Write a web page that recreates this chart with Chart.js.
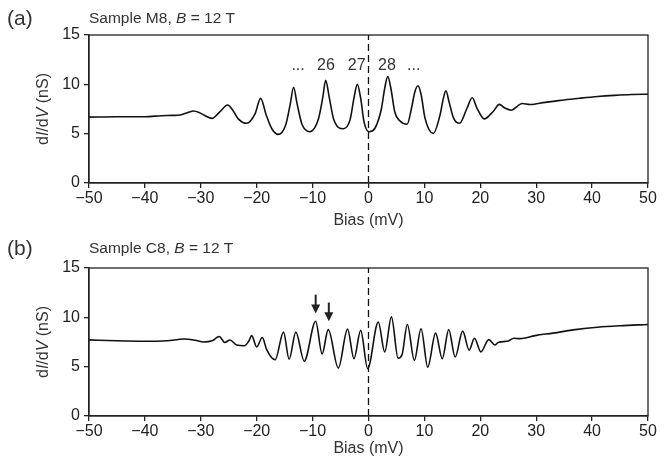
<!DOCTYPE html>
<html lang="en">
<head>
<meta charset="UTF-8">
<title>dI/dV vs bias, samples M8 and C8</title>
<style>
  html, body { margin: 0; padding: 0; background: #fff; }
  .panel { position: absolute; left: 0; width: 668px; height: 231px; }
  #panelA { top: 0; }
  #panelB { top: 231px; }
</style>
</head>
<body>
<div class="panel" id="panelA"><canvas id="chartA"></canvas></div>
<div class="panel" id="panelB"><canvas id="chartB"></canvas></div>

<script src="https://cdn.jsdelivr.net/npm/chart.js@4"></script>
<script>
// --- data ---
// panel (a): sample M8
const biasA = [-50, -45, -40, -37, -35, -33.7, -32.3, -31.3, -30.3, -29.3, -28.0, -26.6, -25.2, -24.3, -23.3,
  -21.8, -20.3, -19.3, -18.3, -17.3, -16.1, -14.8, -14.0, -13.4, -12.8, -11.9, -10.5, -9.0, -8.2, -7.66,
  -7.0, -6.2, -4.5, -3.3, -2.6, -2.0, -1.4, -0.8, 0.1, 1.2, 2.3, 2.9, 3.45, 4.0, 4.7, 5.6, 6.9, 7.7, 8.3,
  8.85, 9.4, 10.1, 11.6, 12.8, 13.4, 13.85, 14.4, 15.2, 16.3, 17.6, 18.55, 19.4, 20.7, 22.3, 23.4, 24.4,
  25.5, 27.5, 28.9, 31.6, 33.4, 35, 38, 41, 44, 47, 50];
const didvA = [6.68, 6.72, 6.72, 6.82, 6.85, 6.9, 7.15, 7.3, 7.15, 6.85, 6.55, 7.2, 7.9, 7.4, 6.5,
  6.05, 7.0, 8.58, 6.9, 5.5, 4.93, 5.9, 8.0, 9.7, 8.1, 5.95, 5.2, 6.4, 8.6, 10.4,
  8.6, 6.4, 5.5, 6.4, 8.6, 10.0, 8.6, 6.2, 5.2, 5.6, 7.5, 9.6, 10.8, 9.6, 7.2, 6.3, 5.95, 7.6, 9.25,
  9.86, 9.0, 6.6, 5.03, 6.9, 8.6, 9.35, 8.25, 6.6, 6.05, 7.55, 8.64, 7.6, 6.5, 7.25, 7.97, 7.6,
  7.38, 8.05, 7.95, 8.17, 8.3, 8.42, 8.6, 8.76, 8.88, 8.97, 9.0];

// panel (b): sample C8
const biasB = [-50, -45, -40, -36, -33, -31, -29.5, -28, -26.7, -25.7, -24.8, -23.6, -22.2, -21.4, -20.9,
  -20.0, -19.0, -18.2, -16.7, -15.2, -14.2, -13.0, -11.5, -9.45, -8.3, -7.2, -5.4, -3.75, -2.6, -1.4,
  -0.15, 1.75, 2.9, 4.1, 5.3, 6.0, 6.95, 8.2, 9.4, 10.6, 12.0, 13.2, 14.35, 15.5, 16.85, 18.0, 18.95,
  20.1, 21.5, 22.6, 23.2, 25.0, 26.0, 27.1, 29.8, 33, 37, 41, 45, 50];
const didvB = [7.72, 7.62, 7.57, 7.63, 7.8, 7.67, 7.5, 7.62, 8.05, 7.45, 7.7, 7.2, 7.12, 7.6, 8.15,
  7.0, 7.95, 6.7, 5.7, 8.5, 5.75, 8.5, 5.55, 9.6, 6.3, 8.75, 4.86, 8.8, 5.8, 8.68,
  4.8, 9.53, 6.49, 10.05, 5.85, 6.2, 9.28, 5.64, 8.85, 4.95, 8.4, 5.8, 8.75, 5.98, 8.6, 6.68, 7.88,
  6.5, 7.74, 7.2, 7.45, 7.6, 7.88, 7.84, 8.15, 8.4, 8.75, 9.0, 9.15, 9.28];

// dashed line at zero bias
const zeroX = [0, 0];
const zeroY = [0, 15];

// Landau level labels above peaks in (a)
const levelLabels = ['...', '26', '27', '28', '...'];
const levelX = [-12.6, -7.6, -2.1, 3.3, 8.1];
const levelY = 11.85;

// arrows in (b)
const arrowX = [-9.45, -7.1];
const arrowTop = [12.3, 11.5];
const arrowTip = [10.4, 9.6];

const xTicks = [-50, -40, -30, -20, -10, 0, 10, 20, 30, 40, 50];
const yTicks = [0, 5, 10, 15];

const FONT = "'Liberation Sans', Arial, sans-serif";
const INK = '#222';
const TEXT = '#333';

function toPoints(xs, ys) {
  return xs.map((v, i) => ({ x: v, y: ys[i] }));
}

// draws runs of text, some italic, starting at x
function drawRuns(ctx, runs, x, y, size) {
  let cx = x;
  runs.forEach(r => {
    ctx.font = (r.i ? 'italic ' : '') + size + 'px ' + FONT;
    ctx.fillText(r.t, cx, y);
    cx += ctx.measureText(r.t).width;
  });
}
function runsWidth(ctx, runs, size) {
  let w = 0;
  runs.forEach(r => {
    ctx.font = (r.i ? 'italic ' : '') + size + 'px ' + FONT;
    w += ctx.measureText(r.t).width;
  });
  return w;
}

const decorations = {
  id: 'decorations',
  afterDraw(chart, args, o) {
    const { ctx, chartArea: a, scales: { x, y } } = chart;
    ctx.save();
    // frame
    ctx.strokeStyle = INK;
    ctx.lineWidth = 1.3;
    ctx.strokeRect(a.left, a.top, a.right - a.left, a.bottom - a.top);

    ctx.fillStyle = TEXT;
    ctx.textBaseline = 'middle';
    ctx.textAlign = 'left';

    // panel letter and sample title
    ctx.font = '21px ' + FONT;
    ctx.fillText(o.letter, 7, o.titleY);
    drawRuns(ctx, o.title, 89, o.titleY, 15.5);

    // y axis title, rotated
    const yRuns = [{ t: 'd' }, { t: 'I', i: true }, { t: '/d' }, { t: 'V', i: true }, { t: ' (nS)' }];
    const w = runsWidth(ctx, yRuns, 16);
    ctx.save();
    ctx.translate(44, (a.top + a.bottom) / 2);
    ctx.rotate(-Math.PI / 2);
    drawRuns(ctx, yRuns, -w / 2, 0, 16);
    ctx.restore();

    // level labels
    if (o.levels) {
      ctx.textAlign = 'center';
      ctx.font = '16px ' + FONT;
      levelLabels.forEach((t, i) => {
        ctx.fillText(t, x.getPixelForValue(levelX[i]), y.getPixelForValue(levelY));
      });
    }

    // arrows
    if (o.arrows) {
      ctx.strokeStyle = INK;
      ctx.fillStyle = INK;
      ctx.lineWidth = 2;
      arrowX.forEach((v, i) => {
        const px = x.getPixelForValue(v);
        const top = y.getPixelForValue(arrowTop[i]);
        const tip = y.getPixelForValue(arrowTip[i]);
        ctx.beginPath();
        ctx.moveTo(px, top);
        ctx.lineTo(px, tip - 7);
        ctx.stroke();
        ctx.beginPath();
        ctx.moveTo(px - 4.5, tip - 9);
        ctx.lineTo(px + 4.5, tip - 9);
        ctx.lineTo(px, tip);
        ctx.closePath();
        ctx.fill();
      });
    }
    ctx.restore();
  }
};

function makePanel(id, bias, didv, padTop, xAxisH, titlePad, deco) {
  new Chart(document.getElementById(id), {
    type: 'line',
    data: {
      datasets: [
        {
          data: toPoints(bias, didv),
          borderColor: '#111',
          borderWidth: 1.6,
          pointRadius: 0,
          cubicInterpolationMode: 'monotone',
          fill: false
        },
        {
          data: toPoints(zeroX, zeroY),
          borderColor: '#111',
          borderWidth: 1.3,
          borderDash: [7, 4],
          pointRadius: 0,
          fill: false
        }
      ]
    },
    options: {
      responsive: true,
      maintainAspectRatio: false,
      animation: false,
      layout: { padding: { top: padTop, right: 20, left: 0, bottom: 0 } },
      plugins: {
        legend: { display: false },
        tooltip: { enabled: false },
        decorations: deco
      },
      scales: {
        x: {
          type: 'linear',
          min: -50,
          max: 50,
          afterBuildTicks: s => { s.ticks = xTicks.map(v => ({ value: v })); },
          afterFit: s => { s.height = xAxisH; },
          ticks: {
            color: INK,
            font: { family: FONT, size: 16 },
            padding: 1,
            maxRotation: 0,
            callback: v => (v < 0 ? '\u2212' + Math.abs(v) : String(v))
          },
          grid: { drawOnChartArea: false, drawTicks: true, tickLength: 5, color: INK, lineWidth: 1.3 },
          border: { display: true, color: INK, width: 1.3 },
          title: {
            display: true,
            text: 'Bias (mV)',
            color: TEXT,
            font: { family: FONT, size: 16 },
            padding: titlePad
          }
        },
        y: {
          min: 0,
          max: 15,
          afterBuildTicks: s => { s.ticks = yTicks.map(v => ({ value: v })); },
          afterFit: s => { s.width = 89; },
          ticks: {
            color: INK,
            font: { family: FONT, size: 16 },
            padding: 4
          },
          grid: { drawOnChartArea: false, drawTicks: true, tickLength: 5, color: INK, lineWidth: 1.3 },
          border: { display: true, color: INK, width: 1.3 }
        }
      }
    },
    plugins: [decorations]
  });
}

makePanel('chartA', biasA, didvA, 35, 48, 1, {
  letter: '(a)',
  titleY: 19,
  title: [{ t: 'Sample M8, ' }, { t: 'B', i: true }, { t: ' = 12 T' }],
  levels: true,
  arrows: false
});

makePanel('chartB', biasB, didvB, 37, 46, 4, {
  letter: '(b)',
  titleY: 18,
  title: [{ t: 'Sample C8, ' }, { t: 'B', i: true }, { t: ' = 12 T' }],
  levels: false,
  arrows: true
});
</script>
</body>
</html>
